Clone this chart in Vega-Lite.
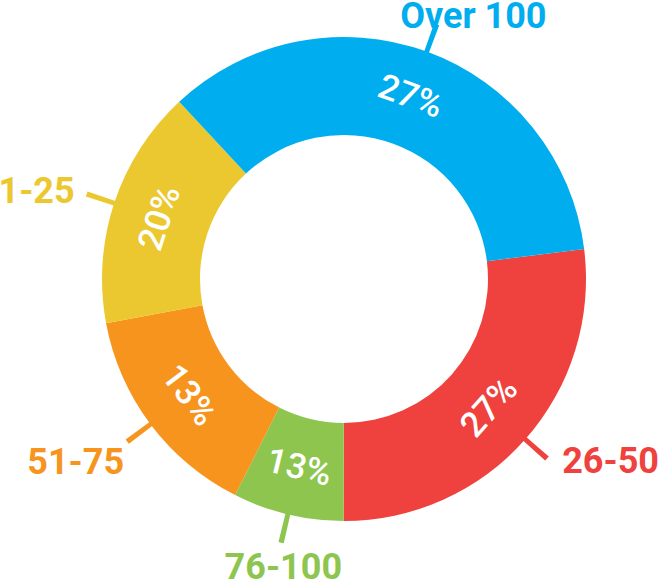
{
  "$schema": "https://vega.github.io/schema/vega-lite/v6.json",
  "autosize": {"type": "none"},
  "width": 632,
  "height": 558,
  "padding": {"left": 28, "top": 0, "right": 0, "bottom": 23},
  "background": "white",
  "config": {"view": {"stroke": null}},
  "data": {"values": [
    {"cat": "26-50", "value": 27, "pct": "27%"},
    {"cat": "76-100", "value": 7.4, "pct": "13%"},
    {"cat": "51-75", "value": 14.65, "pct": "13%"},
    {"cat": "1-25", "value": 16, "pct": "20%"},
    {"cat": "Over 100", "value": 34.95, "pct": "27%"}
  ]},
  "transform": [
    {"stack": "value", "groupby": [], "as": ["v0", "v1"]},
    {"calculate": "(datum.v0 + datum.v1) / 2", "as": "mid"},
    {"calculate": "datum.mid - 0.16", "as": "l0"},
    {"calculate": "datum.mid + 0.16", "as": "l1"},
    {"calculate": "(82.9 + datum.mid * 3.6) % 360", "as": "deg"},
    {"calculate": "datum.deg > 90 && datum.deg < 270 ? datum.deg - 180 : datum.deg", "as": "rot"}
  ],
  "layer": [
    {
      "mark": {"type": "arc", "radius": 242, "radius2": 144},
      "encoding": {
        "theta": {"field": "v0", "type": "quantitative", "stack": null, "scale": {"domain": [0, 100], "range": [1.4469, 7.7301]}},
        "theta2": {"field": "v1"},
        "color": {"field": "cat", "type": "nominal", "legend": null, "scale": {"domain": ["26-50", "76-100", "51-75", "1-25", "Over 100"], "range": ["#EF413D", "#8DC54F", "#F7941E", "#ECC830", "#00ADEE"]}}
      }
    },
    {
      "mark": {"type": "arc", "radius": 271, "radius2": 240},
      "encoding": {
        "theta": {"field": "l0", "type": "quantitative", "stack": null, "scale": {"domain": [0, 100], "range": [1.4469, 7.7301]}},
        "theta2": {"field": "l1"},
        "color": {"field": "cat", "type": "nominal", "legend": null}
      }
    },
    {
      "mark": {"type": "text", "radius": 194, "font": "Roboto", "fontWeight": 500, "fontSize": 35, "fill": "white", "align": "center", "baseline": "middle"},
      "encoding": {
        "theta": {"field": "mid", "type": "quantitative", "stack": null, "scale": {"domain": [0, 100], "range": [1.4469, 7.7301]}},
        "angle": {"field": "rot", "type": "quantitative", "scale": null},
        "text": {"field": "pct", "type": "nominal"}
      }
    },
    {
      "transform": [{"filter": "datum.cat == 'Over 100'"}],
      "mark": {"type": "text", "radius": 270, "align": "center", "baseline": "alphabetic", "dx": 37, "dy": 3, "font": "Roboto", "fontWeight": "bold", "fontSize": 36},
      "encoding": {
        "theta": {"field": "mid", "type": "quantitative", "stack": null, "scale": {"domain": [0, 100], "range": [1.4469, 7.7301]}},
        "text": {"field": "cat", "type": "nominal"},
        "color": {"field": "cat", "type": "nominal", "legend": null}
      }
    },
    {
      "transform": [{"filter": "datum.cat == '26-50'"}],
      "mark": {"type": "text", "radius": 270, "align": "left", "baseline": "alphabetic", "dx": 16, "dy": 15, "font": "Roboto", "fontWeight": "bold", "fontSize": 36},
      "encoding": {
        "theta": {"field": "mid", "type": "quantitative", "stack": null, "scale": {"domain": [0, 100], "range": [1.4469, 7.7301]}},
        "text": {"field": "cat", "type": "nominal"},
        "color": {"field": "cat", "type": "nominal", "legend": null}
      }
    },
    {
      "transform": [{"filter": "datum.cat == '76-100'"}],
      "mark": {"type": "text", "radius": 270, "align": "center", "baseline": "alphabetic", "dx": 2, "dy": 37, "font": "Roboto", "fontWeight": "bold", "fontSize": 36},
      "encoding": {
        "theta": {"field": "mid", "type": "quantitative", "stack": null, "scale": {"domain": [0, 100], "range": [1.4469, 7.7301]}},
        "text": {"field": "cat", "type": "nominal"},
        "color": {"field": "cat", "type": "nominal", "legend": null}
      }
    },
    {
      "transform": [{"filter": "datum.cat == '51-75'"}],
      "mark": {"type": "text", "radius": 270, "align": "right", "baseline": "alphabetic", "dx": -4, "dy": 33, "font": "Roboto", "fontWeight": "bold", "fontSize": 36},
      "encoding": {
        "theta": {"field": "mid", "type": "quantitative", "stack": null, "scale": {"domain": [0, 100], "range": [1.4469, 7.7301]}},
        "text": {"field": "cat", "type": "nominal"},
        "color": {"field": "cat", "type": "nominal", "legend": null}
      }
    },
    {
      "transform": [{"filter": "datum.cat == '1-25'"}],
      "mark": {"type": "text", "radius": 270, "align": "right", "baseline": "alphabetic", "dx": -13, "dy": 9, "font": "Roboto", "fontWeight": "bold", "fontSize": 36},
      "encoding": {
        "theta": {"field": "mid", "type": "quantitative", "stack": null, "scale": {"domain": [0, 100], "range": [1.4469, 7.7301]}},
        "text": {"field": "cat", "type": "nominal"},
        "color": {"field": "cat", "type": "nominal", "legend": null}
      }
    }
  ]
}
